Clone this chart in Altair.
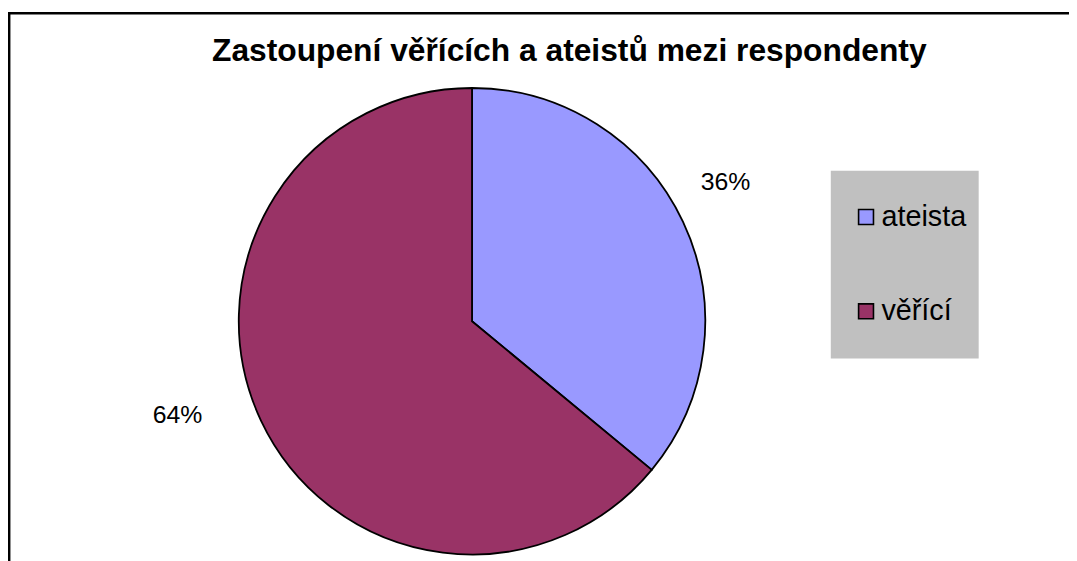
import altair as alt
import pandas as pd

# ---- data ----
categories = ["ateista", "věřící"]
shares = [36, 64]
labels = ["36%", "64%"]
colors = ["#9999FF", "#993366"]
order = [0, 1]
title_text = "Zastoupení věřících a ateistů mezi respondenty"

df = pd.DataFrame({"kategorie": categories, "podil": shares,
                   "popisek": labels, "poradi": order})

# ---- layout / style ----
W, H = 1069, 553
CX, CY, R = 467.5, 313.5, 235
FONT = "Liberation Sans"

color = alt.Color(
    "kategorie:N",
    scale=alt.Scale(domain=categories, range=colors),
    legend=alt.Legend(
        title=None, orient="none", legendX=850, legendY=194,
        symbolType="square", symbolSize=225, symbolStrokeColor="black",
        symbolStrokeWidth=1.6, symbolOpacity=1, labelFont=FONT,
        labelFontSize=29, labelColor="black", labelOffset=1,
        rowPadding=65, padding=0,
    ),
)

frame = alt.Chart(pd.DataFrame({"k": [0]})).mark_rect(
    fill="white", stroke="black", strokeWidth=2.5
).encode(x=alt.value(1.2), y=alt.value(3.3), x2=alt.value(3000), y2=alt.value(3000))

legend_bg = alt.Chart(pd.DataFrame({"k": [0]})).mark_rect(
    fill="#C0C0C0"
).encode(x=alt.value(829), x2=alt.value(978), y=alt.value(162), y2=alt.value(351))

pie = alt.Chart(df).mark_arc(
    outerRadius=R, stroke="black", strokeWidth=1.8
).encode(
    theta=alt.Theta("podil:Q", stack=True),
    order=alt.Order("poradi:Q"),
    color=color,
    x=alt.value(CX), y=alt.value(CY),
)

stacked = alt.Chart(df).transform_stack(
    stack="podil", as_=["s0", "s1"], groupby=[], sort=[alt.SortField("poradi")]
).transform_joinaggregate(total="sum(podil)").transform_calculate(
    mid="((datum.s0 + datum.s1) / 2) / datum.total * 2 * PI"
)

def label_layer(cat, radius, dx, dy):
    return stacked.transform_filter(alt.datum.kategorie == cat).mark_text(
        radius=radius, dx=dx, dy=dy, font=FONT, fontSize=25, color="black",
        align="center", baseline="middle"
    ).encode(
        theta=alt.Theta("mid:Q", scale=None, stack=None),
        text="popisek:N",
        x=alt.value(CX), y=alt.value(CY),
    )

lab1 = label_layer("ateista", 289, -6, -17)
lab2 = label_layer("věřící", 307, -19, -36)

chart = alt.layer(frame, legend_bg, pie, lab1, lab2).properties(
    width=W, height=H,
    autosize=alt.AutoSizeParams(type="none"),
    padding=0,
    background="white",
    title=alt.Title(title_text, font=FONT, fontSize=32, fontWeight="bold",
                    anchor="middle", offset=0, baseline="alphabetic",
                    dy=83.5, dx=31, color="black"),
).configure_view(strokeWidth=0)

chart.save("out.html", embed_options={"renderer": "svg", "actions": False})
